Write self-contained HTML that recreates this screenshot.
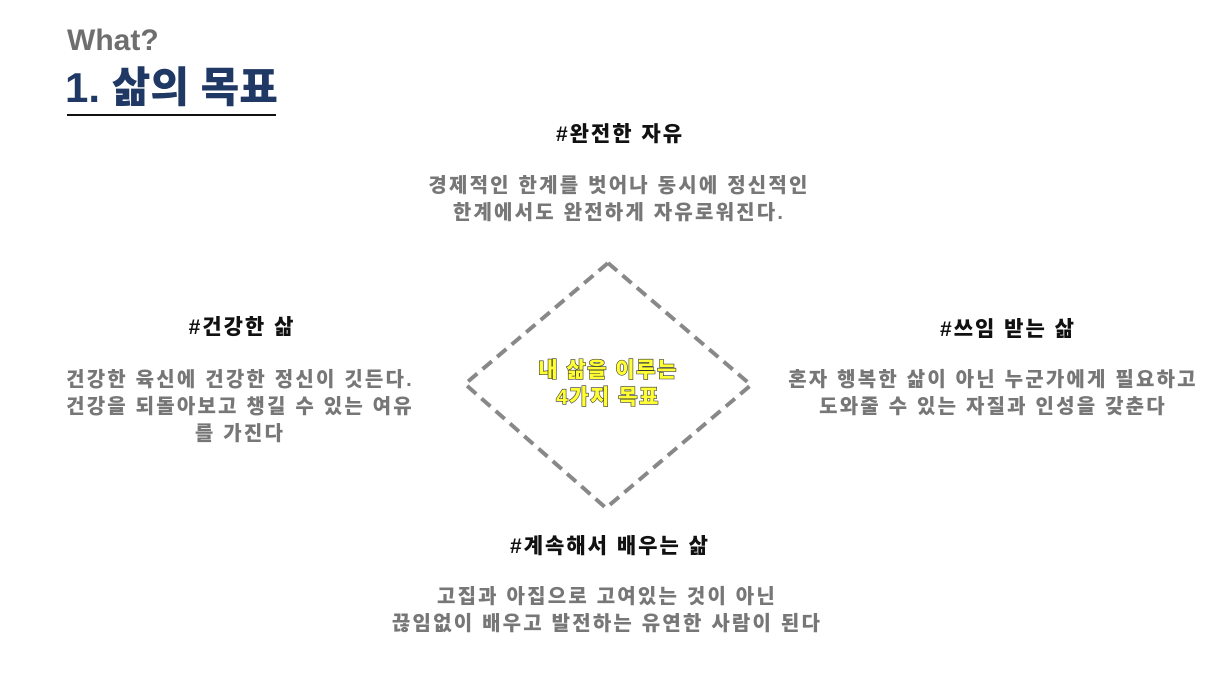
<!DOCTYPE html>
<html><head><meta charset="utf-8"><style>
body{margin:0;width:1216px;height:684px;background:#fff;position:relative;overflow:hidden;font-family:"Liberation Sans","Noto Sans CJK KR",sans-serif;font-weight:900}
.t{position:absolute;white-space:nowrap;text-align:center;transform:translateX(-50%)}
.h{font-size:21px;color:#111;letter-spacing:2px}
.b{font-size:20px;color:#777;line-height:27px;letter-spacing:2.2px}
</style></head><body>
<div style="position:absolute;left:67px;top:24px;font-size:30px;color:#6e6e6e;font-weight:900">What?</div>
<div style="position:absolute;left:65px;top:54px;font-size:42px;color:#1f3864;font-weight:900">1. 삶의 목표</div>
<div style="position:absolute;left:67px;top:114px;width:209px;height:2px;background:#111"></div>
<svg style="position:absolute;left:0;top:0" width="1216" height="684"><polygon points="608,263 751,385 606,508 465,384" fill="none" stroke="#888" stroke-width="4" stroke-dasharray="12,7"/></svg>
<div class="t" style="left:608px;top:357px;font-size:21px;line-height:27px;letter-spacing:1.5px;color:#ffff33;-webkit-text-stroke:1.2px #333;paint-order:stroke fill">내 삶을 이루는<br>4가지 목표</div>
<div class="t h" style="left:620px;top:118px">#완전한 자유</div>
<div class="t b" style="left:619px;top:173px">경제적인 한계를 벗어나 동시에 정신적인<br>한계에서도 완전하게 자유로워진다.</div>
<div class="t h" style="left:242px;top:311px">#건강한 삶</div>
<div class="t b" style="left:240px;top:367px">건강한 육신에 건강한 정신이 깃든다.<br>건강을 되돌아보고 챙길 수 있는 여유<br>를 가진다</div>
<div class="t h" style="left:1008px;top:313px">#쓰임 받는 삶</div>
<div class="t b" style="left:993px;top:367px">혼자 행복한 삶이 아닌 누군가에게 필요하고<br>도와줄 수 있는 자질과 인성을 갖춘다</div>
<div class="t h" style="left:610px;top:530px">#계속해서 배우는 삶</div>
<div class="t b" style="left:607px;top:584px">고집과 아집으로 고여있는 것이 아닌<br>끊임없이 배우고 발전하는 유연한 사람이 된다</div>
</body></html>
